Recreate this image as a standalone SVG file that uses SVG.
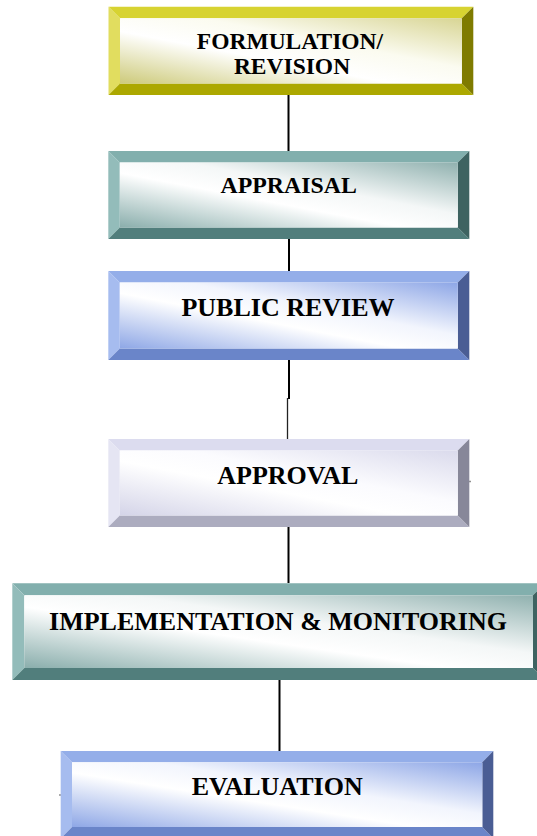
<svg xmlns="http://www.w3.org/2000/svg" width="537" height="836" viewBox="0 0 537 836">
  <style>
    .label { font-family: "Liberation Serif", "Times New Roman", serif; font-weight: bold; fill: #000; text-anchor: middle; }
    .wire { stroke: #000; stroke-width: 2; fill: none; }
    .wire-thin { stroke: #222; stroke-width: 1.3; fill: none; }
    /* olive bevel */
    .y-t { fill: #d7d331; } .y-l { fill: #e1dd5f; } .y-b { fill: #aca800; } .y-r { fill: #7f7b00; }
    /* teal bevel */
    .t-t { fill: #82afad; } .t-l { fill: #93bcba; } .t-b { fill: #517e7c; } .t-r { fill: #3e6361; }
    /* blue bevel */
    .b-t { fill: #94aee9; } .b-l { fill: #a6bcef; } .b-b { fill: #6a85c9; } .b-r { fill: #4a5d94; }
    /* lavender bevel */
    .l-t { fill: #dcdcef; } .l-l { fill: #e5e5f3; } .l-b { fill: #acacbf; } .l-r { fill: #878799; }
  </style>
  <defs>
    <linearGradient id="face-olive" x1="0" y1="1" x2="1" y2="0">
      <stop offset="0" stop-color="#cdca7a"/>
      <stop offset="0.4" stop-color="#ffffff"/>
      <stop offset="0.62" stop-color="#fbfbf0"/>
      <stop offset="1" stop-color="#d8d594"/>
    </linearGradient>
    <linearGradient id="face-teal" x1="0" y1="1" x2="1" y2="0">
      <stop offset="0" stop-color="#8aaeac"/>
      <stop offset="0.42" stop-color="#ffffff"/>
      <stop offset="0.6" stop-color="#f4f7f7"/>
      <stop offset="1" stop-color="#90b1af"/>
    </linearGradient>
    <linearGradient id="face-blue" x1="0" y1="1" x2="1" y2="0">
      <stop offset="0" stop-color="#8ea7e6"/>
      <stop offset="0.42" stop-color="#ffffff"/>
      <stop offset="0.6" stop-color="#f2f5fd"/>
      <stop offset="1" stop-color="#8da6e6"/>
    </linearGradient>
    <linearGradient id="face-lav" x1="0" y1="1" x2="1" y2="0">
      <stop offset="0" stop-color="#d4d4e8"/>
      <stop offset="0.42" stop-color="#ffffff"/>
      <stop offset="0.6" stop-color="#fbfbfe"/>
      <stop offset="1" stop-color="#dadaec"/>
    </linearGradient>
  </defs>

  <rect x="0" y="0" width="537" height="836" fill="#ffffff"/>

  <!-- connectors -->
  <g id="connectors">
    <line class="wire" x1="288.5" y1="95" x2="288.5" y2="151"/>
    <line class="wire" x1="289" y1="239" x2="289" y2="271"/>
    <line class="wire" x1="289" y1="360" x2="289" y2="399"/>
    <line class="wire-thin" x1="287.5" y1="398" x2="287.5" y2="439"/>
    <line class="wire" x1="288.5" y1="527" x2="288.5" y2="583"/>
    <line class="wire" x1="279.5" y1="680" x2="279.5" y2="751"/>
    <line class="wire-thin" x1="469.5" y1="481.5" x2="470.5" y2="481.5"/>
    <line class="wire-thin" x1="59.5" y1="795" x2="60.5" y2="795"/>
  </g>

  <!-- FORMULATION / REVISION -->
  <g id="formulation">
    <polygon class="y-t" points="108.5,6.7 473.3,6.7 461.8,18.2 120,18.2"/>
    <polygon class="y-l" points="108.5,6.7 120,18.2 120,83.5 108.5,95"/>
    <polygon class="y-b" points="108.5,95 120,83.5 461.8,83.5 473.3,95"/>
    <polygon class="y-r" points="473.3,6.7 473.3,95 461.8,83.5 461.8,18.2"/>
    <rect x="120" y="18.2" width="341.8" height="65.3" fill="url(#face-olive)"/>
    <text class="label" x="290" y="49.3" font-size="23.5">FORMULATION/</text>
    <text class="label" x="292" y="74" font-size="23.5">REVISION</text>
  </g>

  <!-- APPRAISAL -->
  <g id="appraisal">
    <polygon class="t-t" points="108.3,151 469.3,151 457.8,162.5 119.8,162.5"/>
    <polygon class="t-l" points="108.3,151 119.8,162.5 119.8,227.5 108.3,239"/>
    <polygon class="t-b" points="108.3,239 119.8,227.5 457.8,227.5 469.3,239"/>
    <polygon class="t-r" points="469.3,151 469.3,239 457.8,227.5 457.8,162.5"/>
    <rect x="119.8" y="162.5" width="338" height="65" fill="url(#face-teal)"/>
    <text class="label" x="288.7" y="193.3" font-size="23.8">APPRAISAL</text>
  </g>

  <!-- PUBLIC REVIEW -->
  <g id="public-review">
    <polygon class="b-t" points="108.3,271 469.3,271 457.8,282.5 119.8,282.5"/>
    <polygon class="b-l" points="108.3,271 119.8,282.5 119.8,348.5 108.3,360"/>
    <polygon class="b-b" points="108.3,360 119.8,348.5 457.8,348.5 469.3,360"/>
    <polygon class="b-r" points="469.3,271 469.3,360 457.8,348.5 457.8,282.5"/>
    <rect x="119.8" y="282.5" width="338" height="66" fill="url(#face-blue)"/>
    <text class="label" x="288" y="315.7" font-size="26">PUBLIC REVIEW</text>
  </g>

  <!-- APPROVAL -->
  <g id="approval">
    <polygon class="l-t" points="108.3,439 469.3,439 457.8,450.5 119.8,450.5"/>
    <polygon class="l-l" points="108.3,439 119.8,450.5 119.8,515.5 108.3,527"/>
    <polygon class="l-b" points="108.3,527 119.8,515.5 457.8,515.5 469.3,527"/>
    <polygon class="l-r" points="469.3,439 469.3,527 457.8,515.5 457.8,450.5"/>
    <rect x="119.8" y="450.5" width="338" height="65" fill="url(#face-lav)"/>
    <text class="label" x="287.8" y="484.3" font-size="26">APPROVAL</text>
  </g>

  <!-- IMPLEMENTATION & MONITORING -->
  <g id="implementation">
    <polygon class="t-t" points="12.3,583.3 545,583.3 533,595.3 24.3,595.3"/>
    <polygon class="t-l" points="12.3,583.3 24.3,595.3 24.3,668 12.3,680"/>
    <polygon class="t-b" points="12.3,680 24.3,668 533,668 545,680"/>
    <polygon class="t-r" points="545,583.3 545,680 533,668 533,595.3"/>
    <rect x="24.3" y="595.3" width="508.7" height="72.7" fill="url(#face-teal)"/>
    <text class="label" x="278" y="630.3" font-size="26">IMPLEMENTATION &amp; MONITORING</text>
  </g>

  <!-- EVALUATION -->
  <g id="evaluation">
    <polygon class="b-t" points="60.7,751 493.3,751 482.3,762.3 72,762.3"/>
    <polygon class="b-l" points="60.7,751 72,762.3 72,827 60.7,838.5"/>
    <polygon class="b-b" points="60.7,838.5 72,827 482.3,827 493.3,838.5"/>
    <polygon class="b-r" points="493.3,751 493.3,838.5 482.3,827 482.3,762.3"/>
    <rect x="72" y="762.3" width="410.3" height="64.7" fill="url(#face-blue)"/>
    <text class="label" x="277.2" y="795" font-size="26">EVALUATION</text>
  </g>
</svg>
